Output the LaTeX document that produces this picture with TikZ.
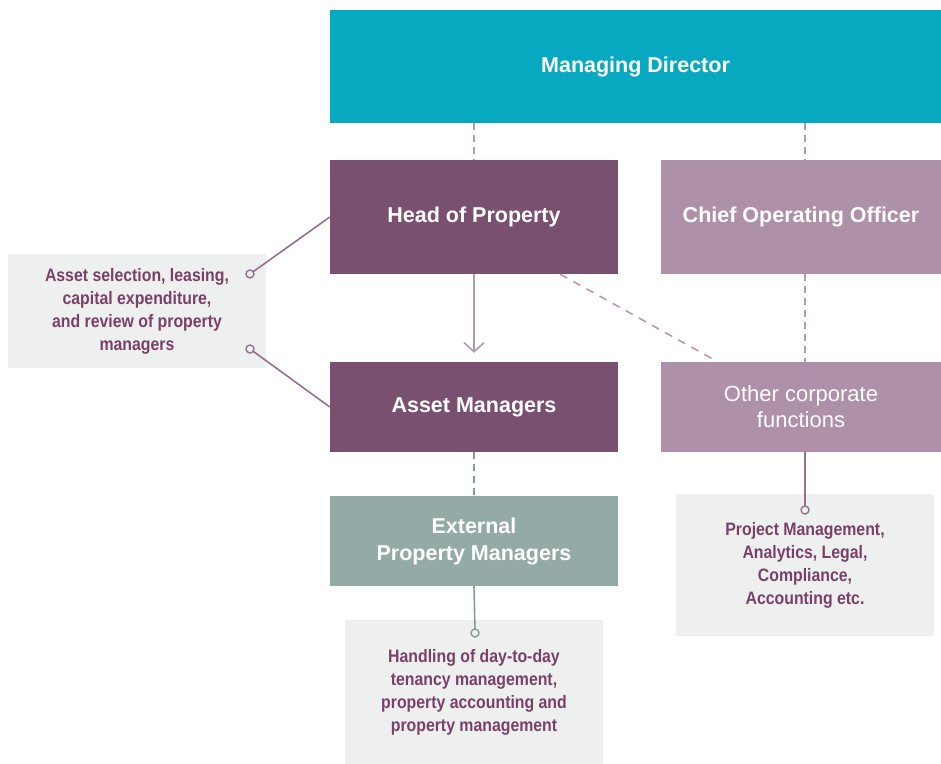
\documentclass[tikz,border=0pt]{standalone}
\usepackage{fontspec}
\setmainfont{Liberation Sans}
\newfontfamily\notefont{Liberation Sans}[FakeStretch=0.88]
\usetikzlibrary{arrows.meta}

\definecolor{mdteal}{HTML}{07A9C1}
\definecolor{hopplum}{HTML}{7A5070}
\definecolor{cooplum}{HTML}{AE90A8}
\definecolor{epmgreen}{HTML}{94AAA6}
\definecolor{notegray}{HTML}{EEF0EF}
\definecolor{notetext}{HTML}{7A4068}
\definecolor{linkplum}{HTML}{94708C}
\definecolor{dashplum}{HTML}{B698B0}
\definecolor{linkgreen}{HTML}{7F9E98}

\tikzset{
  unit/.style={rectangle, fill=#1, text=white, align=center, inner sep=0pt,
    font=\bfseries\fontsize{21.5}{27}\selectfont},
  notebox/.style={rectangle, fill=notegray, text=notetext, align=center, inner sep=0pt,
    font=\notefont\bfseries\fontsize{18}{23}\selectfont},
  link/.style={line width=1.6pt, #1, dash pattern=on 7pt off 5pt},
  tie/.style={line width=1.6pt, #1},
  pindot/.style={circle, draw=#1, line width=1.4pt, fill=notegray, inner sep=0pt, minimum size=8pt},
}

\begin{document}
\begin{tikzpicture}[x=1pt, y=-1pt]
  \useasboundingbox (0,0) rectangle (941,763);

  % units
  \node[unit=mdteal, minimum width=611pt, minimum height=113pt] (md) at (635.5,66.5) {Managing Director};
  \node[unit=hopplum, minimum width=288pt, minimum height=114pt] (hop) at (474,217) {Head of Property};
  \node[unit=cooplum, minimum width=280pt, minimum height=114pt] (coo) at (801,217) {Chief Operating Officer};
  \node[unit=hopplum, minimum width=288pt, minimum height=90pt] (am) at (474,407) {Asset Managers};
  \node[unit=cooplum, minimum width=280pt, minimum height=90pt, font=\fontsize{22}{26}\selectfont] (ocf) at (801,407) {Other corporate\\functions};
  \node[unit=epmgreen, minimum width=288pt, minimum height=90pt] (epm) at (474,541) {External\\Property Managers};

  % notes
  \node[notebox, minimum width=258pt, minimum height=114pt] (amnote) at (137,311) {Asset selection, leasing,\\capital expenditure,\\and review of property\\managers};
  \node[notebox, minimum width=258pt, minimum height=142pt] (ocfnote) at (805,565) {Project Management,\\Analytics, Legal,\\Compliance,\\Accounting etc.};
  \node[notebox, minimum width=258pt, minimum height=144pt] (epmnote) at (474,692) {Handling of day-to-day\\tenancy management,\\property accounting and\\property management};

  \coordinate (pinA) at (250,274);
  \coordinate (pinB) at (250,349);
  \coordinate (pinC) at (805,510);
  \coordinate (pinD) at (475,633);

  % reporting lines
  \draw[link=dashplum] (md.south -| hop) -- (hop.north);
  \draw[link=dashplum] ([xshift=4pt]md.south -| coo) -- ([xshift=4pt]coo.north);
  \draw[link=dashplum] ([xshift=4pt]coo.south) -- ([xshift=4pt]ocf.north);
  \draw[link=dashplum, dash pattern=on 8pt off 7pt] ([xshift=-58pt]hop.south east) -- ([xshift=57pt]ocf.north west);
  \draw[tie=dashplum, -{Straight Barb[length=9pt,width=20pt,line width=1.6pt]}, shorten >=9pt] (hop) -- (am);
  \draw[link=linkgreen] (am.south) -- (epm.north);

  % ties to notes
  \draw[tie=linkplum] (hop.west) -- (pinA);
  \draw[tie=linkplum] (am.west) -- (pinB);
  \draw[tie=linkplum] ([xshift=4pt]ocf.south) -- (pinC);
  \draw[tie=linkgreen] (epm.south) -- (pinD);
  \node[pindot=linkplum] at (pinA) {};
  \node[pindot=linkplum] at (pinB) {};
  \node[pindot=linkplum] at (pinC) {};
  \node[pindot=linkgreen] at (pinD) {};
\end{tikzpicture}
\end{document}
